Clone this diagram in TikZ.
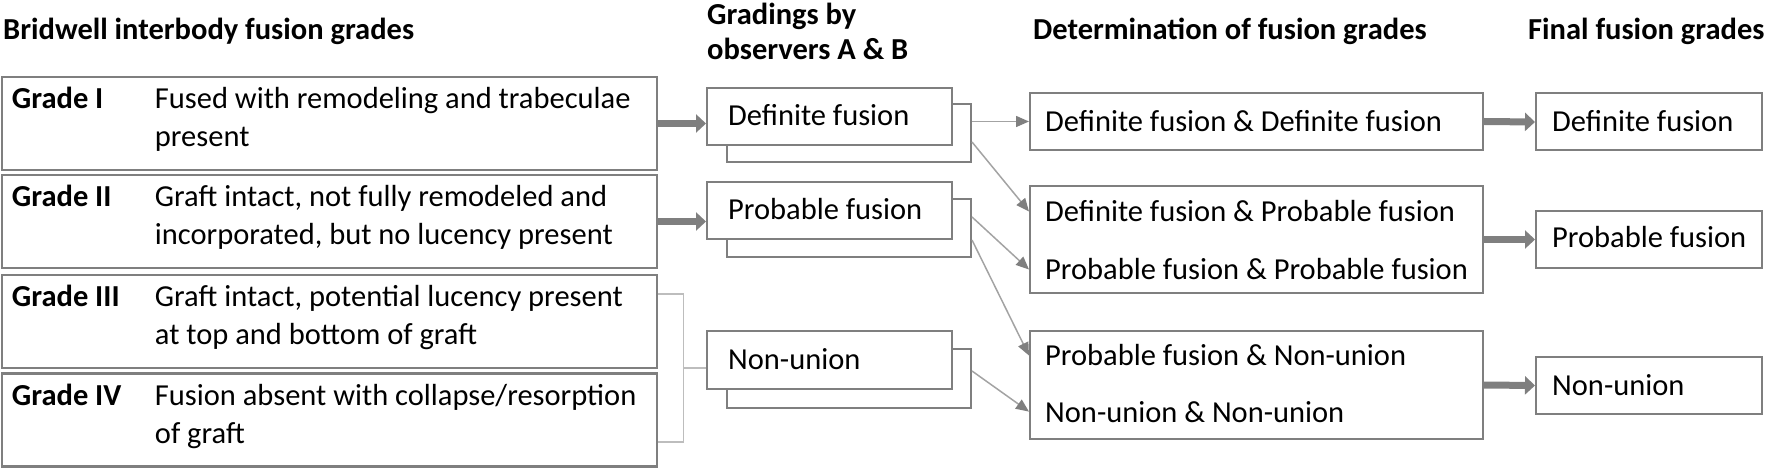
\documentclass[tikz,border=0pt]{standalone}
\usepackage{fontspec}
\setmainfont{Carlito}
\usetikzlibrary{arrows.meta,calc}
\definecolor{boxgray}{HTML}{7F7F7F}
\definecolor{linegray}{HTML}{A3A3A3}
\definecolor{brgray}{HTML}{BDBDBD}
\begin{document}
\begin{tikzpicture}[x=1pt,y=-1pt,
  every node/.style={font=\fontsize{30.5pt}{38pt}\selectfont, inner sep=0pt, text=black},
  title/.style={font=\fontsize{30.5pt}{35pt}\selectfont\bfseries, anchor=base west, align=left},
  gbox/.style={draw=boxgray, line width=2.5pt, fill=white, minimum width=655pt, minimum height=93pt},
  glabel/.style={font=\fontsize{30.5pt}{38pt}\selectfont\bfseries, anchor=base west},
  gdesc/.style={anchor=base west, align=left},
  obsB/.style={draw=boxgray, line width=2pt, fill=white, minimum width=244pt, minimum height=58pt},
  obsF/.style={draw=boxgray, line width=2pt, fill=white, minimum width=245pt, minimum height=57pt},
  detbox/.style={draw=boxgray, line width=2pt, fill=white, minimum width=453pt},
  finbox/.style={draw=boxgray, line width=2pt, fill=white, minimum width=226pt, minimum height=57pt},
  btext/.style={anchor=base west},
  fat/.style={draw=boxgray, line width=7pt, -{Triangle[length=10pt,width=18pt]}},
  thinarr/.style={draw=linegray, line width=1.5pt, -{Triangle[length=13pt,width=11pt,color=boxgray]}},
  bracket/.style={draw=brgray, line width=1.5pt}
]
\useasboundingbox (0,0) rectangle (1770,470);

% titles
\node[title] (h1) at (3,40) {Bridwell interbody fusion grades};
\node[title] (h2) at (707,60) {Gradings by\\observers A \& B};
\node[title] (h3) at (1033,40) {Determination of fusion grades};
\node[title] (h4) at (1528,40) {Final fusion grades};

% grade boxes
\node[gbox] (g1) at (329.5,123.5) {};
\node[gbox] (g2) at (329.5,221.5) {};
\node[gbox] (g3) at (329.5,321.5) {};
\node[gbox] (g4) at (329.5,420) {};
\node[glabel] (l1) at ($(g1.north west)+(11,33)$) {Grade I};
\node[glabel] (l2) at ($(g2.north west)+(11,33)$) {Grade II};
\node[glabel] (l3) at ($(g3.north west)+(11,33)$) {Grade III};
\node[glabel] (l4) at ($(g4.north west)+(11,33)$) {Grade IV};
\node[gdesc] (d1) at ($(g1.north west)+(154,71)$) {Fused with remodeling and trabeculae\\present};
\node[gdesc] (d2) at ($(g2.north west)+(154,71)$) {Graft intact, not fully remodeled and\\incorporated, but no lucency present};
\node[gdesc] (d3) at ($(g3.north west)+(154,71)$) {Graft intact, potential lucency present\\at top and bottom of graft};
\node[gdesc] (d4) at ($(g4.north west)+(154,71)$) {Fusion absent with collapse/resorption\\of graft};

% observer boxes
\node[obsB] (defB) at (849,133) {};
\node[obsF] (defF) at (829.5,116.5) {};
\node[btext] (defT) at (728,126) {Definite fusion};
\node[obsB] (probB) at (849,228.5) {};
\node[obsF] (probF) at (829.5,211) {};
\node[btext] (probT) at (728,220) {Probable fusion};
\node[obsB] (nonB) at (849,378.5) {};
\node[obsF] (nonF) at (829.5,360) {};
\node[btext] (nonT) at (728,369) {Non-union};

% determination boxes
\node[detbox, minimum height=57pt] (dd) at (1256.5,121.5) {};
\node[btext] (ddT) at (1045,132) {Definite fusion \& Definite fusion};
\node[detbox, minimum height=107pt] (dp) at (1256.5,239.5) {};
\node[btext] (dpT1) at (1045,222) {Definite fusion \& Probable fusion};
\node[btext] (dpT2) at (1045,280) {Probable fusion \& Probable fusion};
\node[detbox, minimum height=108pt] (pn) at (1256.5,385) {};
\node[btext] (pnT1) at (1045,366) {Probable fusion \& Non-union};
\node[btext] (pnT2) at (1045,422) {Non-union \& Non-union};

% final boxes
\node[finbox] (fd) at (1649,122) {};
\node[btext] (fdT) at (1552,132) {Definite fusion};
\node[finbox] (fp) at (1649,239.5) {};
\node[btext] (fpT) at (1552,248) {Probable fusion};
\node[finbox] (fn) at (1649,385.5) {};
\node[btext] (fnT) at (1552,395) {Non-union};

% connectors
\draw[fat] (g1.east) -- (g1.east -| defF.west);
\draw[fat] (g2.east) -- (g2.east -| probF.west);
\coordinate (b3) at ([yshift=27.5pt]g3.east);
\coordinate (b4) at ([yshift=-22pt]g4.east);
\coordinate (bm) at ($(b3)!0.5!(b4)+(25,0)$);
\draw[bracket] (b3) -| (bm) |- (b4);
\draw[bracket] (bm) -- (bm -| nonF.west);

\draw[thinarr] (defB.east |- dd) -- (dd.west);
\draw[thinarr] ([yshift=-9pt]defB.east) -- (dp.west |- dpT1);
\draw[thinarr] ([yshift=11.5pt]probB.east) -- (dp.west |- dpT2);
\draw[thinarr] ([yshift=-11.5pt]probB.east) -- (pn.west |- pnT1);
\draw[thinarr] ([yshift=7.5pt]nonB.east) -- (pn.west |- pnT2);

\draw[fat] (dd.east) -- (fd.west);
\draw[fat] (dp.east) -- (fp.west);
\draw[fat] (pn.east) -- (fn.west);
\end{tikzpicture}
\end{document}
